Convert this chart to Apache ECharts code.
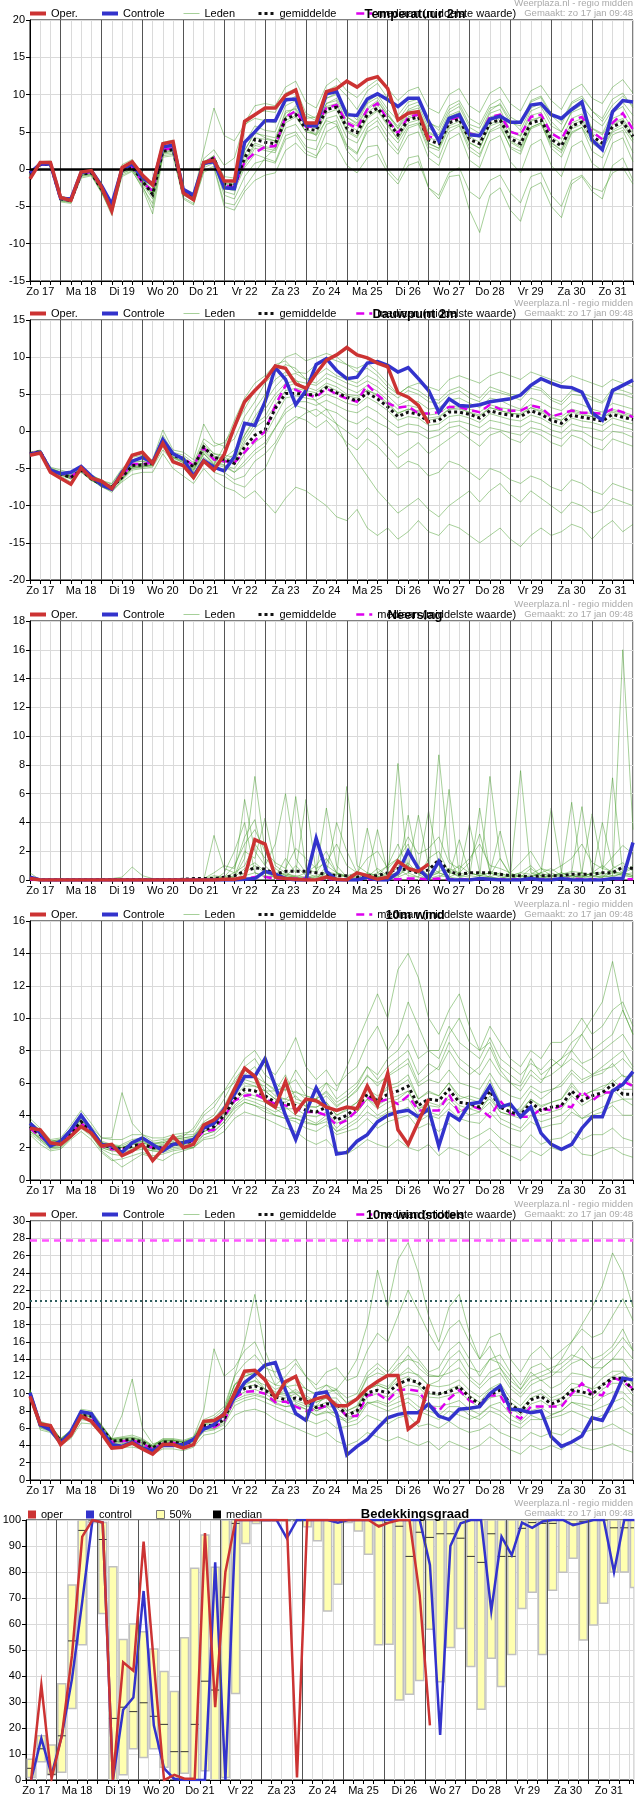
<!DOCTYPE html>
<html>
<head>
<meta charset="utf-8">
<script src="https://cdn.jsdelivr.net/npm/echarts@6.0.0/dist/echarts.min.js"></script>
<style>
html,body{margin:0;padding:0;background:#fff;}
#box{width:635px;height:1800px;}
</style>
</head>
<body>
<div id="box"></div>
<script>
// tijdas: uren na zo 17 jan 00:00, stap 6 uur
var hours = [6,12,18,24, 30,36,42,48, 54,60,66,72, 78,84,90,96, 102,108,114,120,
  126,132,138,144, 150,156,162,168, 174,180,186,192, 198,204,210,216, 222,228,234,240,
  246,252,258,264, 270,276,282,288, 294,300,306,312, 318,324,330,336, 342,348,354,360];
var dayLines = [24,48,72,96,120,144,168,192,216,240,264,288,312,336];
var dayNames = ['Zo 17','Ma 18','Di 19','Wo 20','Do 21','Vr 22','Za 23','Zo 24','Ma 25','Di 26','Wo 27','Do 28','Vr 29','Za 30','Zo 31'];

// ---- Temperatuur 2m ----
var tempOper = [-1.3,0.9,0.9,-3.8, -4.2,-0.4,-0.2,-2.4, -5.6,0.2,1.0,-0.8, -2.1,3.4,3.7,-3.2, -4.1,0.9,1.2,-1.6,
  -1.6,6.4,7.3,8.2, 8.2,9.9,10.6,6.2, 6.2,10.4,10.8,11.8, 11.0,12.0,12.4,10.8, 6.6,7.5,7.7,3.9];
var tempCtrl = [-0.5,0.7,0.7,-3.9, -4.0,-0.5,-0.2,-2.2, -4.7,0.0,0.7,-1.2, -2.0,3.0,3.2,-2.7, -3.5,0.8,1.0,-2.5,
  -2.6,3.6,5.0,6.5, 6.5,9.3,9.4,5.9, 5.8,10.1,10.4,7.3, 7.2,9.4,10.1,9.3, 8.4,9.5,9.5,6.4,
  3.8,6.8,7.3,4.6, 4.5,6.7,7.1,6.3, 6.3,8.6,8.8,7.3, 6.8,8.0,9.0,3.9, 2.6,7.7,9.2,9.0];
var tempMean = [-0.6,0.6,0.7,-4.0, -4.2,-0.7,-0.5,-2.7, -5.0,-0.2,0.3,-1.6, -3.4,2.4,2.6,-3.2, -3.7,0.7,1.5,-2.0,
  -2.2,1.5,4.0,3.6, 3.4,6.7,7.3,5.4, 5.2,8.0,8.3,5.5, 4.9,7.3,8.2,6.4, 4.6,6.6,7.0,3.9,
  3.4,6.2,6.7,4.0, 3.4,6.2,6.6,4.1, 3.4,6.2,6.6,4.0, 3.1,5.8,6.3,4.4, 3.5,5.7,6.3,4.4];
var tempMedian = [-0.6,0.6,0.7,-4.0, -4.2,-0.6,-0.4,-2.5, -4.9,-0.1,0.4,-1.8, -2.9,2.6,2.8,-3.1, -3.6,0.8,1.5,-2.2,
  -2.4,1.0,2.2,3.0, 3.1,7.0,7.8,5.7, 5.7,8.2,8.6,6.2, 5.5,8.0,8.8,6.6, 4.8,7.0,7.3,4.4,
  4.0,6.6,7.0,4.8, 4.4,7.0,7.3,5.0, 4.6,7.0,7.3,4.8, 4.0,6.6,7.0,5.0, 4.0,6.2,7.5,5.3];
var tempMembers = [
  [-0.8,0.9,1.0,-3.6, -4.0,-0.3,-0.1,-2.2, -4.8,0.3,1.0,-1.0, -2.5,3.4,3.6,-2.8, -3.5,1.0,1.6,-1.0, -1.2,5.8,7.5,7.8, 7.6,10.2,10.8,7.5, 6.8,10.5,11.2,9.8, 8.0,10.5,11.5,9.5, 7.2,9.0,9.4,6.5, 5.2,8.0,8.8,6.0, 5.5,8.2,8.6,6.2, 5.8,9.0,9.6,7.2, 6.0,8.8,9.5,7.8, 6.4,8.6,9.8,8.5],
  [-0.5,0.5,0.6,-4.2, -4.5,-1.0,-0.8,-3.0, -5.4,-0.6,0.0,-2.0, -4.0,2.0,2.2,-3.5, -4.2,0.2,0.8,-3.5, -4.0,-1.0,0.8,1.2, 0.8,4.0,4.6,2.5, 1.8,3.5,3.0,0.5, -0.5,1.5,2.0,-0.5, -2.0,0.5,1.0,-2.5, -3.5,-0.5,0.2,-3.0, -4.0,-1.5,-0.8,-3.2, -4.5,-1.0,-0.5,-3.5, -5.0,-1.5,-0.8,-2.5, -3.0,-0.5,0.2,-2.0],
  [-0.6,0.7,0.8,-3.9, -4.1,-0.6,-0.4,-2.6, -5.2,-0.3,0.2,-1.8, -3.6,2.6,2.8,-3.0, -3.6,0.8,1.8,-2.2, -2.5,0.8,3.2,2.8, 2.5,6.5,7.2,5.0, 4.8,8.2,8.6,5.2, 4.4,7.0,8.0,6.0, 4.0,6.8,7.2,3.5, 2.8,6.4,7.0,3.6, 2.8,6.0,6.8,3.8, 3.0,6.4,7.0,3.6, 2.6,5.8,6.6,4.0, 3.2,6.0,6.6,4.0],
  [-0.4,0.8,0.9,-4.4, -4.6,-1.2,-0.9,-3.2, -5.8,-1.0,-0.3,-2.4, -4.6,1.8,2.0,-3.8, -4.6,-0.2,0.4,-4.5, -4.8,-2.5,-0.5,1.5, 2.8,7.0,8.5,6.8, 7.0,9.5,10.2,7.0, 6.2,8.8,9.6,7.5, 5.5,7.8,8.2,5.0, 4.2,7.2,7.8,5.0, 4.5,7.5,8.0,5.2, 4.5,7.8,8.4,5.8, 5.0,7.6,8.2,5.5, 4.8,7.6,8.4,6.0],
  [-0.7,1.0,1.1,-3.7, -3.9,-0.2,0.1,-2.0, -4.6,0.6,1.3,-0.8, -2.2,3.6,3.9,-2.6, -3.2,1.4,2.6,0.5, 1.5,6.2,8.5,8.8, 8.5,11.0,11.8,9.0, 8.2,11.2,12.2,10.5, 9.6,11.0,12.0,10.8, 9.2,10.5,11.0,8.2, 7.5,10.0,10.8,8.5, 7.6,10.2,11.0,8.8, 7.8,10.5,11.2,9.2, 8.0,10.6,11.4,9.5, 8.8,11.0,12.0,10.2],
  [-0.5,0.5,0.5,-4.1, -4.3,-0.8,-0.6,-2.9, -5.6,-0.5,0.0,-2.2, -5.2,2.1,2.4,-3.4, -4.0,0.4,1.2,-2.6, -2.9,0.2,2.0,1.5, 1.0,4.5,5.0,3.0, 2.6,6.0,6.5,3.2, 2.2,5.0,5.8,3.5, 2.0,4.5,5.0,1.5, 0.5,4.0,4.8,1.2, 0.2,3.8,4.5,1.0, -0.5,3.2,4.0,0.5, -1.0,3.0,3.8,0.8, -0.2,3.5,4.2,1.0],
  [-0.6,0.6,0.8,-4.0, -4.3,-0.5,-0.3,-2.5, -4.9,0.0,0.6,-1.4, -3.0,2.9,3.2,-3.1, -3.8,0.6,1.0,-3.0, -3.4,2.5,5.0,4.2, 3.8,7.8,8.0,5.5, 4.5,6.5,6.0,2.5, 1.0,3.0,3.2,0.0, -1.5,1.5,1.8,-2.5, -4.0,-1.0,-0.8,-5.5, -8.5,-3.5,-2.5,-5.5, -7.0,-2.5,-1.8,-5.0, -6.5,-2.0,-1.0,-3.0, -4.0,0.5,1.5,-1.5],
  [-0.7,0.7,0.9,-3.8, -4.0,-0.4,-0.2,-2.4, -5.0,0.2,0.8,-1.2, -2.8,3.0,3.4,-2.9, -3.4,2.5,8.2,4.5, 3.8,6.0,6.8,6.5, 6.2,9.0,9.8,6.5, 5.5,8.8,9.5,7.0, 6.0,8.2,9.2,7.2, 5.8,8.0,8.6,5.5, 4.6,7.6,8.4,5.6, 4.8,7.8,8.8,6.6, 5.2,8.2,8.8,6.4, 5.0,7.8,8.6,6.8, 5.8,8.0,9.0,7.2],
  [-0.5,0.6,0.7,-4.3, -4.4,-0.9,-0.7,-3.1, -6.2,-0.8,-0.2,-2.6, -6.0,1.6,1.8,-4.0, -4.8,-0.4,0.2,-5.0, -5.5,-3.0,-1.5,-0.8, -0.5,2.5,3.5,2.0, 1.5,5.0,5.8,3.0, 2.0,5.5,6.5,4.2, 2.5,5.5,6.0,2.5, 1.5,5.0,5.8,2.5, 1.6,5.2,6.0,2.8, 2.0,5.6,6.2,2.8, 1.6,4.8,5.6,2.4, 1.5,4.6,5.2,2.2],
  [-0.6,0.8,0.9,-3.9, -4.1,-0.6,-0.4,-2.7, -5.1,-0.1,0.4,-1.6, -3.3,2.5,2.7,-3.3, -3.7,0.9,1.6,-1.8, -2.0,3.5,5.8,5.2, 5.0,8.5,9.2,7.2, 6.5,9.5,10.0,7.8, 6.6,9.0,10.0,8.0, 6.5,8.5,9.0,6.2, 5.6,8.5,9.2,6.8, 6.0,8.6,9.4,7.0, 6.2,9.2,9.8,7.5, 6.4,9.0,9.8,7.8, 6.8,9.4,10.2,8.2],
  [-0.6,0.5,0.6,-4.1, -4.3,-0.8,-0.6,-2.8, -5.1,-0.3,0.2,-1.7, -3.5,2.2,2.5,-3.3, -3.8,0.5,1.3,-2.3, -2.5,1.0,3.5,3.0, 2.8,6.2,7.0,5.0, 4.6,7.5,8.0,5.0, 4.2,6.8,7.8,5.8, 4.0,6.2,6.6,3.4, 2.8,5.8,6.4,3.5, 2.8,5.8,6.3,3.6, 2.8,5.6,6.2,3.5, 2.5,5.4,6.0,3.8, 3.0,5.2,6.0,4.0],
  [-0.7,0.8,0.8,-3.8, -4.0,-0.5,-0.3,-2.5, -4.8,0.0,0.5,-1.4, -3.0,2.8,3.0,-3.0, -3.5,1.0,1.8,-1.5, -1.8,2.5,4.8,4.5, 4.2,7.5,8.2,6.0, 5.8,8.8,9.2,6.5, 5.8,8.0,9.0,7.2, 5.4,7.4,7.8,4.8, 4.2,7.0,7.6,4.8, 4.2,7.0,7.4,5.0, 4.4,7.2,7.6,5.0, 4.0,6.8,7.4,5.4, 4.6,6.8,7.4,5.4],
  [-0.5,0.6,0.7,-4.0, -4.2,-0.7,-0.5,-2.6, -5.0,-0.2,0.3,-1.6, -3.4,2.3,2.6,-3.2, -3.7,0.7,1.4,-2.0, -2.3,0.5,2.8,2.5, 2.2,5.5,6.0,4.0, 3.8,6.8,7.2,4.2, 3.5,6.0,7.0,5.0, 3.5,5.8,6.2,3.0, 2.5,5.5,6.0,3.0, 2.0,5.0,5.6,3.0, 2.4,5.4,6.0,3.2, 2.2,5.0,5.6,3.4, 2.6,5.0,5.6,3.6],
  [-0.6,0.7,0.8,-3.9, -4.1,-0.6,-0.4,-2.6, -4.9,-0.1,0.4,-1.5, -3.2,2.6,2.8,-3.1, -3.6,0.9,1.7,-1.9, -2.1,2.0,4.2,4.0, 3.8,7.0,7.6,5.8, 5.5,8.4,8.8,6.0, 5.2,7.6,8.6,6.8, 5.0,7.0,7.5,4.2, 3.8,6.6,7.2,4.4, 3.6,6.5,7.0,4.5, 3.8,6.6,7.0,4.4, 3.4,6.2,6.8,4.8, 4.0,6.2,6.8,4.8]
];

// ---- Dauwpunt 2m ----
var dewOper = [-3.2,-2.9,-5.5,-6.3, -7.1,-4.9,-6.3,-6.7, -7.7,-5.7,-3.2,-2.8, -4.3,-1.6,-4.1,-4.6, -6.2,-4.0,-5.2,-3.1,
  0.6,4.0,5.5,6.9, 8.8,8.5,6.4,5.8, 7.8,9.6,10.3,11.3, 10.3,9.9,9.2,8.7, 5.2,4.6,3.5,1.1];
var dewCtrl = [-3.1,-2.8,-5.2,-5.7, -5.5,-4.7,-6.0,-7.2, -7.8,-5.5,-4.0,-3.5, -4.2,-1.1,-3.0,-3.7, -6.0,-3.9,-4.8,-5.3,
  -3.4,1.1,0.8,4.0, 8.6,7.0,3.6,5.5, 9.0,9.8,8.2,7.1, 7.3,9.2,9.4,8.9, 8.0,8.6,7.1,5.5,
  2.6,4.4,3.5,3.4, 3.6,4.0,4.2,4.4, 4.9,6.2,7.1,6.5, 6.0,5.9,5.3,2.5, 1.5,5.5,6.2,6.9];
var dewMean = [-3.0,-2.7,-5.3,-5.7, -6.2,-5.2,-6.4,-7.1, -7.5,-6.2,-4.6,-4.5, -4.3,-1.2,-3.2,-3.7, -4.8,-2.1,-3.5,-3.8,
  -4.3,-2.1,-0.5,0.2, 3.1,5.1,5.1,5.0, 4.9,5.9,5.2,4.6, 4.1,5.2,4.4,3.3, 2.0,2.6,2.3,1.3,
  1.5,2.6,2.6,2.3, 1.8,2.8,2.4,2.2, 2.0,2.8,2.3,1.5, 1.1,2.2,1.9,1.7, 1.4,2.3,1.9,1.6];
var dewMedian = [-3.0,-2.7,-5.2,-5.6, -6.1,-5.1,-6.3,-7.0, -7.4,-6.0,-4.4,-4.4, -4.2,-1.3,-3.1,-3.6, -4.6,-2.2,-3.8,-4.0,
  -4.2,-2.8,-1.2,0.0, 3.5,6.2,5.6,5.0, 4.6,5.8,5.0,4.4, 4.0,6.3,4.9,3.8, 3.2,3.4,2.4,2.4,
  2.6,3.3,3.3,2.9, 2.6,3.6,3.0,2.8, 2.8,3.5,3.2,2.0, 2.4,2.8,2.5,2.5, 2.4,3.0,2.6,1.9];
var dewMembers = [
  [-3.2,-2.9,-5.3,-6.0, -6.8,-4.9,-6.0,-6.5, -7.5,-5.5,-3.5,-3.2, -4.0,-0.8,-3.5,-4.2, -5.8,-3.5,-4.5,-2.0, 1.5,4.5,6.5,7.5, 9.0,9.5,8.0,7.8, 9.0,10.0,9.5,9.0, 8.5,9.2,8.0,6.5, 5.0,6.0,5.5,4.5, 4.2,5.5,6.0,5.2, 4.5,6.0,5.5,5.0, 4.8,6.2,5.8,4.5, 4.0,5.5,5.2,4.6, 4.0,5.8,5.5,5.0],
  [-2.9,-2.6,-5.0,-5.4, -5.8,-5.2,-6.5,-7.5, -8.0,-6.8,-5.8,-5.5, -5.5,-3.0,-5.0,-6.0, -7.0,-5.0,-6.5,-7.5, -8.0,-9.0,-8.0,-9.5, -11.0,-9.0,-7.5,-8.0, -9.0,-10.0,-11.5,-12.0, -10.5,-13.0,-14.0,-13.0, -14.5,-13.5,-12.0,-13.5, -14.0,-12.5,-13.0,-14.0, -15.0,-14.0,-13.0,-14.5, -15.5,-14.0,-13.0,-14.0, -13.5,-12.5,-13.0,-14.5, -13.0,-12.0,-13.5,-12.5],
  [-3.0,-2.7,-5.2,-5.6, -6.1,-5.1,-6.3,-7.0, -7.4,-6.0,-4.4,-4.3, -4.2,-1.0,-3.0,-3.5, -4.6,-1.8,-3.0,-3.5, -4.0,-1.0,1.0,2.0, 4.5,6.0,6.5,6.0, 5.5,6.5,6.0,5.0, 4.8,5.5,5.0,3.8, 2.5,3.0,2.8,1.5, 1.8,3.0,3.2,2.5, 2.0,3.2,2.8,2.5, 2.2,3.2,2.8,2.0, 1.5,2.8,2.4,2.0, 1.8,2.8,2.4,2.0],
  [-3.1,-2.8,-5.4,-5.8, -6.4,-5.5,-6.6,-7.3, -7.8,-6.5,-5.0,-4.8, -4.6,-2.0,-3.8,-4.5, -6.0,-3.0,-4.5,-5.5, -6.5,-6.0,-4.0,-3.0, -1.5,1.0,2.0,1.5, 0.5,1.5,0.0,-1.5, -2.5,-1.0,-2.0,-3.5, -5.0,-4.0,-4.5,-6.0, -5.5,-4.0,-4.5,-5.5, -6.5,-5.0,-5.5,-6.5, -7.0,-6.0,-6.5,-7.5, -8.0,-6.5,-7.0,-8.0, -8.5,-7.0,-7.5,-8.0],
  [-2.8,-2.5,-4.8,-5.2, -5.6,-4.6,-5.8,-6.6, -7.0,-5.0,-3.8,-3.6, -3.8,0.2,-2.5,-2.8, -3.8,1.0,-1.5,-2.0, -1.0,2.0,4.0,6.5, 8.0,9.0,8.5,7.0, 7.5,8.5,7.5,7.0, 6.5,7.5,6.8,5.5, 4.5,5.5,5.0,4.0, 3.8,5.0,5.5,4.5, 4.0,5.5,5.2,4.8, 4.2,5.8,5.5,4.2, 3.6,5.0,4.8,4.2, 3.8,5.2,5.0,4.5],
  [-3.0,-2.6,-5.1,-5.5, -6.0,-5.3,-6.2,-7.2, -7.6,-6.4,-4.8,-4.6, -4.5,-1.8,-3.4,-4.0, -5.2,-2.6,-4.0,-4.5, -5.5,-4.0,-2.5,-1.5, 0.5,2.5,3.5,3.0, 2.0,3.0,2.5,1.5, 1.0,2.0,1.2,0.5, -0.5,0.0,-0.2,-1.0, -0.5,0.5,0.8,0.0, -0.5,0.5,0.2,-0.2, -0.5,0.5,0.2,-0.5, -1.0,0.2,0.0,-0.8, -1.2,0.0,-0.2,-0.8],
  [-3.1,-2.8,-5.0,-5.6, -6.2,-5.0,-6.1,-6.9, -7.3,-5.8,-4.2,-4.0, -4.4,-1.5,-3.2,-3.8, -5.0,-2.4,-3.8,-4.2, -3.0,0.5,3.0,5.0, 7.0,8.0,7.0,5.5, 4.0,3.0,1.0,-2.0, -4.0,-6.0,-8.0,-9.5, -11.0,-10.0,-9.0,-10.5, -11.5,-10.0,-9.0,-8.0, -9.5,-8.0,-7.0,-8.5, -9.5,-8.0,-9.0,-10.0, -11.0,-9.5,-10.0,-11.0, -10.5,-9.0,-9.5,-10.0],
  [-2.9,-2.7,-4.9,-5.5, -5.9,-4.8,-5.9,-6.7, -7.1,-5.2,-4.0,-4.0, -4.0,-0.5,-2.8,-3.2, -4.2,-1.0,-2.0,-1.5, 0.5,3.0,5.5,7.0, 8.5,10.0,10.5,9.5, 10.0,10.5,10.0,9.0, 8.0,8.5,7.5,6.0, 5.0,6.0,6.5,6.0, 5.5,7.0,7.5,7.0, 6.5,7.5,8.0,7.5, 7.0,8.0,7.5,7.0, 6.5,7.5,7.0,6.5, 6.0,7.0,6.5,6.0],
  [-3.0,-2.8,-5.3,-5.8, -6.3,-5.4,-6.5,-7.4, -8.2,-6.6,-5.2,-5.0, -4.8,-2.5,-4.0,-4.8, -6.5,-4.0,-5.5,-6.0, -7.0,-7.5,-6.0,-5.0, -2.0,0.5,1.5,2.5, 3.0,2.0,1.0,0.0, -1.0,0.5,-0.5,-2.0, -3.5,-2.5,-1.5,-3.0, -2.0,-1.0,0.0,-1.0, -2.0,-0.5,0.0,-1.0, -1.5,0.0,-0.5,-1.5, -2.0,-0.5,-1.0,-2.0, -2.5,-1.0,-1.5,-2.0],
  [-2.9,-2.6,-5.1,-5.5, -6.0,-5.0,-6.2,-6.9, -7.3,-5.6,-4.6,-4.4, -4.3,-1.2,-3.0,-3.6, -4.8,-2.0,-3.4,-3.6, -2.5,-0.5,2.0,4.0, 6.0,7.5,7.8,7.0, 6.5,7.8,7.2,6.5, 6.0,6.8,6.0,4.8, 3.5,4.2,4.0,3.0, 3.2,4.2,4.5,3.8, 3.2,4.5,4.2,3.5, 3.0,4.5,4.0,3.2, 2.8,4.0,3.6,3.0, 2.6,3.8,3.4,3.0],
  [-3.0,-2.7,-5.2,-5.7, -6.2,-5.2,-6.4,-7.1, -7.5,-6.2,-4.6,-4.5, -4.3,-1.2,-3.2,-3.7, -4.8,-2.1,-3.5,-3.8, -4.0,-1.5,0.5,1.5, 3.5,5.5,5.8,5.5, 5.2,6.2,5.5,4.8, 4.5,5.6,4.8,3.6, 2.4,3.0,2.6,1.8, 2.0,3.0,3.0,2.6, 2.2,3.2,2.8,2.4, 2.4,3.2,2.6,1.8, 1.5,2.6,2.2,2.0, 1.8,2.6,2.2,1.8],
  [-3.1,-2.8,-5.3,-5.8, -6.3,-5.3,-6.5,-7.2, -7.6,-6.3,-4.8,-4.7, -4.5,-1.6,-3.5,-4.0, -5.2,-2.8,-4.2,-4.6, -5.0,-3.0,-1.5,-0.5, 2.0,4.5,4.8,4.5, 4.2,5.0,4.5,3.8, 3.5,4.6,3.8,2.8, 1.5,2.0,1.8,0.8, 1.0,2.0,2.2,1.8, 1.2,2.4,2.0,1.6, 1.4,2.2,1.8,1.0, 0.6,1.8,1.4,1.2, 0.8,1.8,1.4,1.0],
  [-2.9,-2.6,-5.2,-5.6, -6.1,-5.0,-6.3,-7.0, -7.4,-6.0,-4.5,-4.3, -4.2,-1.0,-3.0,-3.5, -4.5,-1.5,-3.0,-3.2, -3.5,-0.5,1.5,3.0, 5.0,6.5,6.8,6.5, 6.2,7.2,6.5,5.8, 5.2,6.2,5.4,4.2, 3.0,3.5,3.2,2.2, 2.4,3.4,3.4,3.0, 2.6,3.6,3.2,3.0, 2.8,3.6,3.0,2.2, 2.0,3.0,2.6,2.4, 2.2,3.0,2.6,2.2],
  [-3.0,-2.8,-5.4,-5.9, -6.4,-5.4,-6.6,-7.3, -7.8,-6.4,-4.9,-4.8, -4.6,-1.8,-3.6,-4.2, -5.4,-3.0,-4.4,-4.8, -5.5,-4.5,-3.0,-2.0, 0.5,3.0,4.0,4.0, 3.5,4.2,3.5,2.8, 2.5,3.4,2.6,1.5, 0.5,1.0,0.8,0.0, 0.2,1.2,1.4,1.0, 0.5,1.5,1.2,0.8, 0.6,1.4,1.0,0.2, -0.2,1.0,0.6,0.4, 0.0,1.0,0.6,0.2]
];

// ---- Neerslag ----
var rainOper = [0.1,0,0,0, 0,0,0,0, 0,0,0,0, 0,0,0,0, 0,0,0,0.05,
  0.05,0.2,2.8,2.5, 0.2,0.1,0.05,0, 0,0.2,0.05,0, 0.5,0.3,0.05,0.2, 1.3,0.8,0.6,1.1];
var rainCtrl = [0.2,0,0,0, 0,0,0,0, 0,0,0,0, 0,0,0,0, 0,0,0,0,
  0,0.05,0.1,0.6, 0.4,0.1,0,0, 2.9,0.6,0,0, 0,0.2,0,0, 0.5,2.0,0.8,0.1,
  1.3,0,0,0, 0.1,0.05,0,0, 0,0.1,0,0, 0.1,0,0,0, 0,0.1,0.1,2.6];
var rainMean = [0.1,0.02,0.02,0.02, 0.02,0.02,0.02,0.03, 0.03,0.03,0.03,0.03, 0.03,0.03,0.03,0.05, 0.1,0.1,0.1,0.2,
  0.3,0.6,0.85,0.75, 0.4,0.6,0.6,0.6, 0.5,0.4,0.3,0.3, 0.2,0.3,0.3,0.5, 0.8,0.7,0.5,0.7,
  1.4,0.6,0.4,0.5, 0.5,0.5,0.4,0.3, 0.3,0.2,0.3,0.3, 0.3,0.4,0.4,0.4, 0.5,0.5,0.9,0.8];
var rainMedian = [0,0,0,0, 0,0,0,0, 0,0,0,0, 0,0,0,0, 0,0,0,0,
  0,0.1,0.2,0.2, 0.1,0.1,0.1,0.1, 0.05,0.05,0.05,0.05, 0.05,0.05,0.05,0.05, 0.05,0.1,0.1,0.05,
  0.1,0.05,0.05,0.05, 0.05,0.05,0.05,0.05, 0.05,0.05,0.05,0.05, 0.05,0.1,0.05,0.05, 0.05,0.05,0.05,0.05];
var rainMembers = [
  [0,0,0,0, 0,0,0,0, 0,0,0,0, 0,0,0,0, 0,0,3.1,0.8, 0.5,5.6,2.0,1.0, 0.3,0.5,0.2,0, 0,1.0,0.5,0.2, 0,0.2,0.8,0.3, 0.5,1.2,0.4,0, 0.2,0.6,0.2,0, 0,0.3,1.5,0.4, 0.2,0.8,0.3,0, 0,0.3,0.2,0.5, 1.0,0.5,0.3,0.2],
  [0.5,0,0,0, 0,0,0,0, 0,0,0,0, 0,0,0,0, 0,0,0,0.2, 0.2,1.5,7.2,2.0, 0.5,0.2,1.0,0.3, 0,0.5,4.0,2.0, 0.5,0.3,0.2,0.1, 0.3,0.8,4.5,1.0, 0.5,0.2,0.5,0.3, 0.2,7.2,1.5,0.3, 0,0.2,0.5,0.8, 0.3,0.1,0.5,0.3, 0.2,0.8,1.2,0.6],
  [0,0,0,0, 0,0,0,0, 0.1,0.2,0.9,0.3, 0.1,0.1,0,0, 0,0.1,0.5,1.0, 0.8,3.0,4.2,1.0, 2.5,6.0,1.5,0.5, 0.2,0.5,0.3,6.5, 1.0,0.5,0.3,1.0, 2.5,0.8,0.5,0.3, 8.7,1.5,0.2,0.5, 0.3,0.5,0.2,0.1, 0.3,0.2,0.5,5.0, 0.5,0.3,0.2,0.5, 0.5,0.3,16.0,3.5],
  [0,0,0,0, 0,0,0,0, 0,0,0,0, 0,0,0,0, 0,0,0.2,0.1, 0.3,2.0,1.5,4.3, 1.0,0.5,5.8,0.8, 0.5,1.5,0.5,0.3, 0.2,3.6,0.5,0.2, 8.1,0.5,1.0,0.3, 0.5,6.3,0.3,3.9, 0.5,0.2,0.5,0.2, 7.6,0.5,0.3,0.2, 0.5,5.4,0.3,0.2, 0.5,7.1,0.5,0.3],
  [0,0,0,0, 0,0,0,0, 0,0,0,0, 0,0,0,0, 0,0,0,0, 0,0.5,1.0,0.5, 0.2,1.5,0.5,5.6, 0.5,5.0,1.0,0.2, 0.1,0.5,0.2,0.3, 0.5,4.5,0.8,4.8, 1.0,0.5,0.3,0.2, 5.0,0.5,3.4,0.5, 0.2,0.3,0.5,0.2, 0.3,0.5,5.1,0.5, 0.3,0.2,0.5,1.0],
  [0,0,0,0, 0,0,0,0, 0,0,0,0, 0,0,0,0, 0,0,0.1,0.2, 0.5,1.0,2.5,1.5, 0.8,0.3,0.2,0.5, 1.0,2.0,0.5,0.2, 0.1,0.2,0.5,1.0, 1.5,2.5,0.5,0.2, 0.5,0.3,2.8,0.5, 0.3,0.2,0.1,0.3, 0.5,1.0,0.3,0.5, 0.2,0.3,0.5,0.3, 0.2,0.5,0.5,0.8],
  [0,0,0,0, 0,0,0,0, 0,0,0,0, 0,0,0,0, 0,0,0,0.5, 2.0,4.0,0.5,0.3, 0.2,0.3,0.2,0.1, 0.2,0.3,0.2,0.3, 0.5,0.3,0.2,0.5, 0.8,0.3,0.2,1.5, 2.0,0.5,1.0,0.5, 0.3,0.5,0.3,0.2, 0.3,0.2,0.2,0.3, 0.5,0.2,0.3,0.2, 4.0,1.0,0.5,0.3],
  [0,0,0,0, 0,0,0,0, 0,0,0,0, 0,0,0,0, 0,0,0,0, 0,0.3,0.5,0.2, 0.3,0.2,0.1,0.2, 0.1,0.2,0.1,0.1, 0,0.1,0.2,0.1, 0.2,0.5,0.2,0.1, 0.3,0.2,0.1,0.1, 0.1,0.2,0.1,0, 0.1,0.1,0.2,0.1, 0.1,0.1,0.2,0.1, 0.2,0.3,0.4,0.2],
  [0,0,0,0, 0,0,0,0, 0,0,0,0, 0,0,0,0, 0,0.1,0.3,0.2, 1.0,2.5,3.5,2.0, 1.2,0.8,2.2,1.5, 0.8,1.2,2.5,1.0, 0.5,1.5,2.0,0.8, 1.5,3.0,1.8,2.2, 3.0,1.2,0.8,1.5, 2.5,1.0,0.8,0.5, 1.2,2.0,0.8,0.6, 1.0,1.5,2.5,1.2, 0.8,1.6,2.4,1.8],
  [0,0,0,0, 0,0,0,0, 0,0,0,0, 0,0,0,0, 0,0,0,0, 0.2,0.8,1.2,0.6, 0.3,0.4,0.3,0.2, 0.3,0.6,0.4,0.2, 0.2,0.4,3.5,0.5, 0.3,1.0,0.5,0.4, 0.6,0.8,0.5,1.2, 3.2,0.6,0.4,0.3, 0.5,0.4,0.8,0.3, 0.4,0.6,0.5,4.6, 0.8,0.6,0.4,0.5]
];

// ---- 10m wind ----
var windOper = [3.2,3.1,2.3,2.2, 2.7,3.3,2.9,2.1, 2.2,1.5,1.8,2.2, 1.2,1.9,2.7,2.0, 2.2,3.4,3.7,4.3,
  5.6,6.9,6.4,4.9, 4.5,6.1,4.2,5.0, 4.9,4.5,4.3,4.5, 4.4,5.8,4.6,6.6, 3.1,2.2,3.6,5.0];
var windCtrl = [3.5,2.9,2.1,2.4, 3.1,4.0,3.1,2.2, 2.1,1.7,2.3,2.6, 2.2,1.8,2.2,2.3, 2.5,3.2,3.5,4.4,
  5.3,6.4,6.4,7.5, 5.8,4.0,2.5,4.2, 5.7,4.5,1.6,1.7, 2.4,2.8,3.6,4.0, 4.2,4.3,3.9,4.4,
  2.1,4.1,3.7,4.7, 4.8,5.8,4.5,4.7, 3.9,4.5,2.9,2.2, 1.9,2.2,3.2,3.9, 3.9,5.5,5.9,6.7];
var windMean = [3.3,2.8,2.2,2.3, 2.9,3.6,3.0,2.2, 2.0,1.9,2.1,2.2, 2.0,2.0,2.2,2.3, 2.4,3.1,3.3,4.0,
  5.0,5.6,5.5,5.2, 4.8,4.7,4.6,4.3, 4.2,4.5,3.7,4.0, 4.5,5.3,4.9,5.3, 5.5,5.8,4.6,5.0,
  4.9,5.6,4.8,4.7, 4.5,5.5,4.5,4.2, 4.0,4.8,4.3,4.5, 4.6,5.5,4.9,5.2, 5.4,5.9,5.3,5.3];
var windMedian = [3.2,2.7,2.2,2.3, 2.9,3.5,3.0,2.1, 1.9,1.9,2.1,2.2, 2.0,2.0,2.2,2.3, 2.4,3.0,3.1,3.9,
  4.9,5.2,5.3,5.0, 4.7,4.6,4.4,4.2, 4.2,4.0,3.4,3.7, 4.3,5.1,4.8,5.0, 4.7,5.2,4.3,4.3,
  4.3,5.3,4.1,4.6, 4.4,3.9,4.9,4.1, 3.9,3.9,4.4,4.3, 4.6,4.5,5.5,4.9, 5.4,5.4,6.1,5.8];
var windMembers = [
  [3.8,3.2,2.5,2.6, 3.4,4.3,3.5,2.6, 2.5,2.5,2.8,2.8, 2.6,2.6,2.8,2.9, 3.0,4.0,4.5,5.5, 6.5,7.5,8.0,7.0, 6.5,7.5,8.8,7.0, 6.2,6.8,5.8,6.5, 7.0,8.5,9.5,8.0, 9.0,11.0,9.5,8.0, 7.5,9.0,10.0,8.5, 8.0,9.5,8.5,7.5, 7.0,8.0,7.5,8.5, 8.5,9.0,10.0,9.0, 9.5,10.5,11.0,9.5],
  [2.8,2.2,1.8,1.9, 2.5,3.0,2.5,1.7, 1.2,1.3,1.5,1.7, 1.5,1.6,1.8,1.9, 2.0,2.5,2.6,3.0, 3.8,4.2,4.0,3.8, 3.5,3.2,3.0,2.5, 2.2,2.5,1.8,1.6, 2.0,2.5,2.2,2.0, 2.5,2.0,1.8,2.2, 1.5,2.0,1.8,1.5, 2.0,2.5,1.8,1.5, 1.2,1.8,1.5,2.0, 1.8,2.2,1.6,1.5, 1.8,2.0,1.6,1.4],
  [3.4,2.9,2.3,2.4, 3.0,3.8,3.2,2.3, 2.1,2.0,2.2,2.4, 2.1,2.2,2.4,2.5, 2.6,3.4,3.6,4.4, 5.4,6.0,5.8,5.5, 5.0,4.8,5.2,4.5, 4.5,4.8,4.0,4.4, 4.8,5.6,5.0,5.8, 6.0,6.5,5.0,5.5, 5.2,6.0,5.0,5.2, 5.0,6.2,4.8,4.5, 4.2,5.0,4.5,4.8, 5.0,6.0,5.2,5.5, 5.8,6.0,6.5,5.8],
  [3.0,2.6,2.0,2.2, 2.8,3.4,2.8,2.0, 1.8,2.2,2.5,2.6, 2.2,2.4,2.6,2.7, 3.2,4.2,4.8,5.5, 6.0,7.0,6.5,5.5, 5.5,6.5,5.0,4.8, 5.0,6.0,5.5,7.0, 8.5,10.0,11.5,10.0, 13.0,14.0,12.5,10.0, 9.0,10.5,11.5,9.5, 8.0,8.5,7.0,6.5, 6.0,7.5,6.5,7.0, 7.5,8.0,9.0,8.0, 8.5,9.0,10.5,9.0],
  [3.2,2.5,2.0,2.0, 2.6,3.2,2.7,1.9, 1.6,1.5,1.8,1.9, 1.8,1.7,1.9,2.0, 2.0,2.6,2.8,3.4, 4.2,4.8,4.6,4.2, 4.0,3.8,3.6,3.2, 3.0,3.4,2.8,3.0, 3.2,3.8,3.2,3.6, 3.8,4.0,3.2,3.5, 3.0,3.5,2.8,2.5, 2.8,3.2,2.6,2.2, 2.0,2.8,2.2,2.5, 2.6,3.0,2.5,2.8, 2.8,3.2,2.6,2.4],
  [3.6,3.0,2.4,2.5, 3.2,3.9,3.3,2.6, 2.6,5.4,3.5,2.8, 2.4,2.5,2.6,2.8, 2.8,3.6,4.0,5.0, 6.2,7.0,7.5,6.5, 6.0,5.5,6.8,5.8, 5.5,6.0,5.0,5.5, 6.0,7.0,6.2,7.0, 7.5,8.0,6.5,7.2, 6.8,8.0,7.0,6.5, 7.0,8.2,6.8,6.0, 5.8,6.8,6.2,6.5, 7.0,8.0,7.2,7.5, 8.0,8.5,9.0,8.0],
  [3.1,2.6,2.1,2.2, 2.8,3.5,2.9,2.1, 1.9,1.8,2.0,2.1, 1.9,1.9,2.1,2.2, 2.3,3.0,3.2,3.8, 4.6,5.2,5.0,4.8, 4.4,4.0,3.8,3.6, 3.4,3.8,3.0,3.4, 3.8,4.6,4.0,4.4, 4.8,5.0,4.0,4.2, 4.0,4.8,4.2,4.4, 4.6,5.0,4.2,4.0, 4.5,5.5,5.0,5.5, 6.0,6.8,6.2,6.5, 7.0,7.5,8.0,7.0],
  [3.5,3.0,2.4,2.4, 3.1,3.7,3.1,2.3, 2.2,2.0,2.2,2.3, 2.1,2.1,2.3,2.4, 2.5,3.3,3.5,4.2, 5.5,6.2,6.0,5.8, 5.2,5.0,5.5,5.0, 4.8,5.2,4.5,5.0, 5.5,6.5,5.8,6.5, 7.0,7.5,6.0,6.5, 7.0,8.5,7.5,7.0, 6.5,7.5,6.5,6.0, 5.5,6.5,6.0,7.0, 7.5,8.5,9.0,10.0, 11.0,13.5,10.5,9.0],
  [2.9,2.4,1.9,2.0, 2.6,3.3,2.8,1.8, 1.3,0.8,1.2,1.6, 1.4,1.2,1.6,1.8, 2.0,2.8,3.0,3.6, 4.5,5.0,4.8,4.5, 4.2,4.5,4.0,3.8, 3.5,4.0,3.2,3.8, 4.2,5.0,4.4,4.8, 5.0,5.5,4.4,4.6, 4.5,5.0,4.4,4.0, 4.2,4.8,3.8,3.5, 3.2,4.0,3.6,3.8, 4.0,4.5,3.8,4.2, 4.5,4.8,5.0,4.6],
  [3.3,2.8,2.3,2.4, 3.0,3.6,3.1,2.3, 2.1,2.0,2.3,2.4, 2.2,2.3,2.5,2.6, 2.7,3.5,3.8,4.6, 5.8,6.5,7.0,6.0, 5.5,5.8,6.2,5.2, 5.0,5.5,4.8,5.2, 5.8,7.0,6.5,7.5, 8.0,9.0,7.5,8.0, 8.0,9.5,8.5,8.0, 7.5,8.8,7.5,7.0, 6.5,7.2,6.8,7.5, 7.0,7.5,7.0,6.5, 6.8,7.0,7.5,6.8],
  [3.2,2.7,2.1,2.2, 2.8,3.5,2.9,2.1, 1.9,1.8,2.0,2.1, 1.9,1.9,2.1,2.2, 2.3,3.0,3.2,3.9, 4.8,5.4,5.2,5.0, 4.5,4.4,4.4,4.0, 3.9,4.2,3.5,3.8, 4.2,5.0,4.6,5.0, 5.2,5.5,4.4,4.8, 4.6,5.2,4.6,4.4, 4.2,5.2,4.2,4.0, 3.8,4.6,4.0,4.2, 4.4,5.2,4.6,5.0, 5.2,5.6,5.0,5.0],
  [3.4,2.9,2.3,2.4, 3.0,3.7,3.1,2.3, 2.1,2.0,2.2,2.3, 2.1,2.1,2.3,2.4, 2.5,3.2,3.4,4.1, 5.2,5.8,5.8,5.5, 5.0,5.0,4.8,4.6, 4.5,4.8,4.0,4.3, 4.8,5.6,5.2,5.6, 5.8,6.2,5.0,5.4, 5.2,6.0,5.2,5.0, 4.8,5.8,4.8,4.5, 4.3,5.0,4.6,4.8, 5.0,5.8,5.2,5.5, 5.6,6.2,5.6,5.6],
  [3.0,2.5,2.0,2.1, 2.7,3.3,2.8,2.0, 1.8,1.7,1.9,2.0, 1.8,1.8,2.0,2.1, 2.2,2.8,3.0,3.6, 4.4,4.8,4.6,4.4, 4.0,3.8,3.8,3.5, 3.4,3.6,3.0,3.2, 3.6,4.2,3.8,4.2, 4.2,4.5,3.6,4.0, 3.8,4.4,3.8,3.6, 3.5,4.2,3.5,3.2, 3.0,3.6,3.2,3.4, 3.5,4.2,3.8,4.0, 4.2,4.6,4.0,4.0],
  [3.6,3.1,2.4,2.5, 3.1,3.8,3.2,2.4, 2.2,2.1,2.4,2.5, 2.3,2.3,2.5,2.6, 2.7,3.4,3.6,4.4, 5.6,6.4,6.4,6.0, 5.6,5.6,5.4,5.2, 5.0,5.4,4.6,5.0, 5.6,6.4,6.0,6.4, 6.8,7.2,5.8,6.2, 6.0,6.8,6.0,5.8, 5.6,6.6,5.6,5.2, 5.0,5.8,5.4,5.6, 5.8,6.6,6.0,6.4, 6.6,7.2,6.4,6.4]
];

// ---- 10m windstoten ----
var gustOper = [9.7,6.5,6.3,4.1, 5.2,7.4,6.8,5.4, 3.7,3.8,4.3,3.6, 3.0,4.1,4.1,3.7, 4.1,6.8,6.9,7.6,
  10.0,12.6,12.7,11.6, 9.5,11.4,12.0,8.9, 9.4,9.7,8.6,8.6, 9.4,10.6,11.4,12.1, 12.1,5.9,6.8,11.1];
var gustCtrl = [10.1,6.4,5.8,4.3, 5.6,7.9,7.7,5.8, 4.1,3.9,4.4,3.7, 3.4,4.0,4.0,4.1, 4.7,5.9,6.4,7.7,
  9.5,11.3,12.2,13.3, 13.6,10.4,7.7,6.9, 10.0,10.2,7.7,2.9, 3.9,4.7,6.0,7.2, 7.6,7.8,7.8,8.8,
  7.4,7.0,8.2,8.3, 8.5,10.0,10.9,8.2, 8.1,7.8,8.0,5.0, 3.9,4.4,5.1,7.2, 6.9,9.1,11.8,11.6];
var gustMean = [10.0,6.4,6.0,4.5, 5.4,7.5,7.4,6.0, 4.5,4.6,4.7,4.4, 3.7,4.4,4.4,4.2, 4.5,6.3,6.3,7.0,
  9.9,10.6,10.9,10.4, 9.6,9.3,9.5,9.2, 8.4,8.8,8.8,7.5, 8.0,10.1,10.4,10.1, 11.1,11.6,11.3,10.1,
  10.0,10.2,10.8,9.6, 8.8,9.9,10.4,8.8, 7.9,9.3,9.7,8.8, 9.3,10.4,10.2,9.9, 11.0,11.8,11.8,10.4];
var gustMedian = [9.9,6.3,5.9,4.4, 5.3,7.3,7.2,5.8, 4.4,4.5,4.6,4.2, 3.6,4.2,4.3,4.1, 4.4,6.1,6.1,6.8,
  9.5,10.2,10.3,10.0, 9.0,9.1,8.5,8.0, 8.2,8.6,8.7,7.4, 7.4,9.8,10.0,9.2, 10.4,10.5,10.3,8.7,
  8.0,9.4,10.4,9.2, 8.7,9.8,9.8,7.8, 7.1,8.5,8.5,8.5, 8.5,10.0,11.2,10.0, 9.8,11.9,11.4,10.6];
var gustMembers = [
  [10.5,6.8,6.4,4.8, 5.8,8.2,8.0,6.4, 4.8,5.0,5.2,4.8, 4.0,4.8,4.8,4.6, 5.0,7.0,7.5,8.5, 12.0,13.5,14.5,13.0, 12.5,13.0,14.0,12.0, 11.0,12.5,13.0,11.5, 12.0,15.0,17.0,16.0, 19.0,22.0,19.5,17.0, 15.0,17.5,18.5,16.0, 14.0,16.5,17.0,14.0, 12.5,14.5,15.5,14.0, 15.0,16.0,17.5,16.5, 17.0,19.0,21.0,18.5],
  [9.5,5.8,5.5,4.0, 4.8,6.6,6.5,5.2, 3.6,3.8,3.8,3.6, 3.0,3.6,3.6,3.4, 3.8,5.2,5.4,6.0, 7.5,8.0,8.2,7.8, 7.0,6.5,6.0,5.5, 5.0,5.5,4.5,4.0, 4.5,5.5,5.0,4.5, 5.0,4.5,4.0,4.5, 3.5,4.5,4.0,3.5, 4.0,5.0,4.2,3.5, 3.0,4.0,3.5,4.0, 3.5,4.5,3.8,3.5, 3.8,4.2,3.6,3.2],
  [10.0,6.5,6.1,4.5, 5.4,7.6,7.4,6.0, 4.5,4.6,4.7,4.4, 3.7,4.4,4.4,4.2, 4.5,6.4,6.5,7.4, 10.5,11.0,11.5,10.5, 9.8,9.5,10.0,9.2, 8.5,9.0,8.8,7.6, 8.2,10.5,11.0,10.5, 11.5,12.0,11.0,10.0, 9.8,10.5,11.0,9.8, 9.0,10.5,10.8,9.0, 8.2,9.5,10.0,9.2, 9.5,10.5,11.0,10.5, 11.0,12.0,12.5,11.0],
  [9.8,6.2,5.8,4.3, 5.2,7.2,7.0,5.6, 4.2,4.4,4.6,4.2, 3.6,4.2,4.3,4.0, 4.8,6.8,7.2,8.2, 11.0,12.5,12.0,10.5, 9.5,10.5,9.0,8.5, 8.5,10.0,10.5,12.0, 14.0,18.0,24.3,20.0, 25.5,27.5,24.0,19.0, 16.0,20.0,21.5,17.0, 14.0,15.5,13.0,11.5, 10.5,12.5,11.5,12.0, 13.0,14.0,15.5,14.0, 14.5,15.5,17.5,15.0],
  [9.6,6.0,5.6,4.2, 5.0,7.0,6.8,5.5, 4.0,4.2,4.3,4.0, 3.4,4.0,4.1,3.9, 4.2,5.6,5.8,6.4, 8.6,9.2,9.5,9.0, 8.5,8.0,7.5,7.0, 6.5,7.0,6.0,6.2, 6.5,7.5,7.0,6.5, 7.2,7.5,6.2,6.5, 6.0,6.8,6.0,5.5, 5.8,6.5,5.5,5.0, 4.5,5.5,5.0,5.5, 5.2,6.0,5.5,5.8, 6.0,6.5,5.8,5.2],
  [10.3,6.6,6.2,4.7, 5.6,7.8,7.7,6.2, 4.8,7.5,11.7,6.0, 4.2,4.5,4.6,4.4, 5.0,8.0,15.2,12.0, 13.0,15.0,16.0,13.5, 11.0,12.0,13.5,12.0, 10.5,11.0,10.0,9.0, 9.5,12.0,13.0,12.0, 13.0,14.5,13.0,12.0, 12.0,14.0,15.0,13.0, 12.5,14.0,13.5,12.0, 10.5,12.0,12.5,13.0, 13.5,14.5,14.0,13.0, 14.0,15.0,16.5,15.0],
  [10.1,6.4,6.0,4.6, 5.5,7.5,7.3,5.9, 4.4,4.5,4.6,4.3, 3.6,4.3,4.4,4.1, 4.6,6.5,6.8,8.0, 12.0,16.0,21.5,15.0, 12.0,11.0,10.0,9.0, 8.0,8.5,7.5,7.0, 7.5,9.0,8.5,8.0, 8.5,9.0,8.0,7.5, 7.0,8.0,7.5,7.0, 7.5,8.5,8.0,7.0, 6.5,7.5,7.0,7.5, 8.0,9.0,8.5,8.0, 8.5,9.0,9.5,8.5],
  [10.2,6.5,6.1,4.6, 5.5,7.6,7.5,6.1, 4.6,4.7,4.8,4.5, 3.8,4.5,4.5,4.3, 4.7,6.6,6.8,7.6, 10.0,10.8,11.0,10.5, 10.0,9.8,10.5,9.5, 9.0,9.5,9.0,8.0, 8.5,10.5,11.0,10.5, 12.0,13.0,12.0,11.0, 11.5,13.0,14.0,12.0, 11.0,12.5,13.0,11.0, 10.0,11.5,12.0,12.5, 14.0,16.0,18.0,20.0, 22.5,26.3,24.0,20.0],
  [9.7,6.1,5.7,4.3, 5.1,7.1,7.0,5.6, 4.1,4.0,4.1,3.9, 3.3,3.9,3.9,3.8, 4.0,5.8,6.0,6.8, 9.0,9.5,9.8,9.5, 9.0,8.5,8.8,8.2, 7.5,8.0,7.2,6.8, 7.5,9.0,9.0,8.5, 9.0,9.5,8.5,8.0, 7.5,8.5,8.5,7.5, 7.0,8.0,7.5,6.5, 6.0,7.0,7.0,7.2, 7.5,8.0,7.5,7.0, 7.5,8.0,8.5,7.5],
  [10.4,6.7,6.3,4.7, 5.7,7.9,7.8,6.3, 4.7,4.8,4.9,4.6, 3.9,4.6,4.6,4.4, 4.8,6.8,7.0,7.8, 11.0,12.0,12.5,11.5, 10.5,11.0,12.0,10.5, 10.0,11.0,10.5,9.5, 10.0,12.5,13.5,12.5, 14.0,15.5,14.0,12.5, 13.0,15.0,16.0,14.0, 12.0,14.0,14.5,12.5, 11.0,13.0,13.5,12.5, 12.5,13.5,14.0,13.0, 13.0,14.0,15.5,14.0],
  [10.0,6.3,5.9,4.4, 5.3,7.4,7.3,5.9, 4.4,4.5,4.6,4.3, 3.6,4.3,4.3,4.1, 4.4,6.2,6.2,6.9, 9.6,10.2,10.5,10.0, 9.2,9.0,9.2,8.8, 8.0,8.5,8.4,7.2, 7.6,9.6,10.0,9.6, 10.5,11.0,10.8,9.6, 9.5,9.8,10.2,9.2, 8.4,9.5,9.8,8.4, 7.5,8.8,9.2,8.4, 8.8,9.8,9.8,9.4, 10.5,11.2,11.2,9.8],
  [10.2,6.6,6.2,4.7, 5.6,7.8,7.6,6.2, 4.7,4.8,4.9,4.6, 3.9,4.6,4.6,4.4, 4.7,6.6,6.6,7.4, 10.4,11.2,11.5,11.0, 10.2,10.0,10.2,9.8, 9.0,9.5,9.5,8.0, 8.6,10.8,11.2,10.8, 12.0,12.5,12.2,11.0, 10.8,11.0,11.6,10.4, 9.6,10.6,11.2,9.5, 8.6,10.0,10.5,9.5, 10.0,11.2,11.0,10.6, 11.8,12.6,12.6,11.2],
  [9.8,6.2,5.8,4.3, 5.2,7.2,7.1,5.7, 4.2,4.3,4.4,4.1, 3.5,4.1,4.1,3.9, 4.2,5.9,5.9,6.6, 9.2,9.8,10.0,9.6, 8.8,8.5,8.6,8.2, 7.5,7.8,7.8,6.6, 7.0,8.8,9.2,8.8, 9.6,10.0,9.8,8.6, 8.5,8.8,9.2,8.2, 7.6,8.6,9.0,7.6, 6.8,8.0,8.4,7.6, 8.0,9.0,8.8,8.6, 9.6,10.2,10.2,9.0],
  [10.3,6.7,6.3,4.8, 5.7,8.0,7.8,6.3, 4.8,4.9,5.0,4.7, 4.0,4.7,4.7,4.5, 4.8,6.8,6.9,7.8, 11.0,12.0,12.4,11.8, 11.0,10.8,11.0,10.6, 9.8,10.4,10.4,8.8, 9.4,11.8,12.4,12.0, 13.4,14.0,13.6,12.2, 12.0,12.4,13.0,11.6, 10.6,11.8,12.4,10.6, 9.6,11.0,11.6,10.6, 11.2,12.4,12.2,11.8, 13.0,14.0,14.0,12.4]
];
var gustLimits = [27.8, 20.8];

// ---- Bedekkingsgraad (per 6-uurs blok) ----
var cloudLow = [1,7,2,3, 27.5,52,99,64, 0,2,12,8.7, 12,4.9,1,2.6, 0,3.6,0,1,
  33.3,91,98.7,100, 100,100,100,97.4, 92,65,75.3,99, 95.8,86.8,52,52.2, 30.8,33,38.3,58,
  37.8,51,58.3,43.7, 27.2,46.8,36,48.3, 66,72.2,48.3,73, 79.9,85.3,53.8,59.6, 68,80,80,74];
var cloudHigh = [8,17,13.5,37, 75,100,100,99, 82,54,60,57, 50.4,41.7,34,54.7, 81.4,94.2,81.8,100,
  100,100,100,100, 100,100,100,100, 100,100,100,100, 100,100,100,100, 100,100,100,100,
  100,100,100,100, 100,100,100,100, 100,100,100,100, 100,100,100,100, 100,100,100,100];
var cloudMedian = [4.5,12,2.2,17, 53.5,96,100,92.5, 23.7,28,26.3,29.7, 24.5,21.4,10.9,10.9, 21.4,38,34.6,70.3,
  98.7,100,100,100, 100,100,100,100, 100,100,100,100, 100,100,98,99, 97.6,86,95.3,93.3,
  94.7,94.7,93,86, 83.7,94.7,86,86, 96.8,99,98.7,98.7, 100,98.5,99.5,100, 100,97,97,97];
var cloudOper = [0,36.5,0.5,17, 48,93.6,100,99, 0,45.3,42,91.7, 45,0,2,0.5, 0.5,95,28,80,
  100,100,100,100, 100,100,1,100, 100,100,100,100, 100,100,97.5,99, 100,100,71,21];
var cloudCtrl = [0,16,2,17, 39,68.6,100,99, 0,27,31.7,72.7, 21,4.5,0.4,0, 0,0,83.7,0,
  100,100,100,100, 100,93,100,100, 100,100,99,100, 100,100,100,100, 100,100,100,82.7,
  17.3,90,98.7,100, 100,65,93.6,86.5, 99,97,99.4,100, 100,98,99,100, 100,80,100,100];

// ---------------------------------------------------------------
var FONT = '"Liberation Sans", Arial, Helvetica, sans-serif';
var RED = '#cc3333', BLUE = '#3333cc', GREEN = 'rgba(62,152,32,0.46)', MAGENTA = '#dd00ee';

var linePanels = [
  {title:'Temperatuur 2m', top:20, height:261, min:-15, max:20, step:5,
   oper:tempOper, ctrl:tempCtrl, mean:tempMean, median:tempMedian, members:tempMembers},
  {title:'Dauwpunt 2m', top:320, height:260, min:-20, max:15, step:5,
   oper:dewOper, ctrl:dewCtrl, mean:dewMean, median:dewMedian, members:dewMembers},
  {title:'Neerslag', top:621, height:259, min:0, max:18, step:2,
   oper:rainOper, ctrl:rainCtrl, mean:rainMean, median:rainMedian, members:rainMembers},
  {title:'10m wind', top:921, height:259, min:0, max:16, step:2,
   oper:windOper, ctrl:windCtrl, mean:windMean, median:windMedian, members:windMembers},
  {title:'10m windstoten', top:1221, height:259, min:0, max:30, step:2,
   oper:gustOper, ctrl:gustCtrl, mean:gustMean, median:gustMedian, members:gustMembers}
];
var cloudPanel = {title:'Bedekkingsgraad', top:1520, height:260};

function xy(vals, shift){
  return vals.map(function(v, i){ return [hours[i] + (shift || 0), v]; });
}
function dayLabel(v){
  if ((v - 12) % 24 !== 0) return '';
  return dayNames[(v - 12) / 24] || '';
}

var option = {
  animation:false,
  backgroundColor:'#fff',
  textStyle:{fontFamily:FONT},
  grid:[], xAxis:[], yAxis:[], legend:[], graphic:[], series:[]
};

function addAxes(g, left, width, xmax, top, height, ymin, ymax, ystep){
  option.grid.push({left:left, top:top, width:width, height:height, show:true,
    borderColor:'#000', borderWidth:1, backgroundColor:'transparent', outerBoundsMode:'none'});
  option.xAxis.push({type:'value', gridIndex:g, min:6, max:xmax, interval:6,
    axisLine:{show:true, onZero:false, lineStyle:{color:'#000', width:1}},
    axisTick:{show:true, length:4, lineStyle:{color:'#000'}},
    axisLabel:{formatter:dayLabel, color:'#000', fontSize:11, fontFamily:FONT, margin:5,
      showMinLabel:true, showMaxLabel:true},
    splitLine:{show:true, lineStyle:{color:'#dadada', width:1}}});
  option.yAxis.push({type:'value', gridIndex:g, min:ymin, max:ymax, interval:ystep,
    axisLine:{show:true, onZero:false, lineStyle:{color:'#000', width:1}},
    axisTick:{show:true, length:4, lineStyle:{color:'#000'}},
    axisLabel:{color:'#000', fontSize:11, fontFamily:FONT, margin:5},
    splitLine:{show:true, lineStyle:{color:'#dadada', width:1}}});
  // dagscheidingen
  option.series.push({type:'line', xAxisIndex:g, yAxisIndex:g, data:[], silent:true, z:1,
    markLine:{silent:true, symbol:['none','none'], label:{show:false}, animation:false,
      lineStyle:{color:'#555', width:1, type:'solid'},
      data:dayLines.map(function(h){ return {xAxis:h}; })}});
}

function addHeader(top, title){
  option.graphic.push(
    {type:'text', x:415, y:top - 6, z:100, style:{text:title, font:'bold 13px ' + FONT,
      fill:'#000', align:'center', verticalAlign:'middle'}},
    {type:'text', x:633, y:top - 17, z:100, style:{text:'Weerplaza.nl - regio midden',
      font:'9.5px ' + FONT, fill:'#aaaaaa', align:'right', verticalAlign:'middle'}},
    {type:'text', x:633, y:top - 7, z:100, style:{text:'Gemaakt: zo 17 jan 09:48',
      font:'9.5px ' + FONT, fill:'#aaaaaa', align:'right', verticalAlign:'middle'}}
  );
}

function addLegend(item, x, top, w, h, lineW){
  var l = {data:[item], left:x, top:top, padding:0, itemWidth:w, itemHeight:h,
    selectedMode:false, textStyle:{fontSize:11, color:'#000', fontFamily:FONT}};
  if (lineW) {
    l.lineStyle = {width:lineW};
    l.itemStyle = {opacity:0, borderWidth:0};
  }
  option.legend.push(l);
}

function lineSeries(g, name, data, color, width, type, z){
  option.series.push({type:'line', name:name, xAxisIndex:g, yAxisIndex:g, data:data, symbol:'none',
    showSymbol:false, silent:true, z:z, clip:true,
    lineStyle:{color:color, width:width, type:type || 'solid', cap:'butt', join:'miter'},
    itemStyle:{color:color}});
}

linePanels.forEach(function(p, g){
  addAxes(g, 30, 603, 360, p.top, p.height, p.min, p.max, p.step);
  p.members.forEach(function(m){
    lineSeries(g, 'Leden', xy(m), GREEN, 1, 'solid', 2);
  });
  lineSeries(g, 'mediaan (middelste waarde)', xy(p.median), MAGENTA, 2.5, [8, 5], 3);
  lineSeries(g, 'gemiddelde', xy(p.mean), '#111', 3, [3, 3], 3);
  lineSeries(g, 'Controle', xy(p.ctrl), BLUE, 3.5, 'solid', 4);
  lineSeries(g, 'Oper.', xy(p.oper), RED, 3.5, 'solid', 5);

  if (g === 0) {
    option.series.push({type:'line', xAxisIndex:g, yAxisIndex:g, data:[], silent:true, z:4,
      markLine:{silent:true, symbol:['none','none'], label:{show:false},
        lineStyle:{color:'#000', width:2.5, type:'solid'}, data:[{yAxis:0}]}});
  }
  if (g === 4) {
    option.series.push({type:'line', xAxisIndex:g, yAxisIndex:g, data:[], silent:true, z:3,
      markLine:{silent:true, symbol:['none','none'], label:{show:false},
        data:[
          {yAxis:gustLimits[0], lineStyle:{color:'#ff55ff', width:2.5, type:[7, 5]}},
          {yAxis:gustLimits[1], lineStyle:{color:'#2f5f5f', width:2, type:[2, 3]}}
        ]}});
  }

  var lt = p.top - 12;
  addLegend('Oper.', 28, lt, 16, 8, 4);
  addLegend('Controle', 100, lt, 16, 8, 4);
  addLegend('Leden', 183, lt, 16, 8, 1);
  addLegend('gemiddelde', 257, lt, 16, 8, 3);
  addLegend('mediaan (middelste waarde)', 355, lt, 16, 8, 2.5);
  addHeader(p.top, p.title);
});

// ---- paneel 6: bedekkingsgraad ----
var gc = 5;
addAxes(gc, 26, 607.6, 362.5, cloudPanel.top, cloudPanel.height, 0, 100, 10);

var boxData = cloudLow.map(function(lo, i){ return [hours[i] + 3, lo, cloudHigh[i]]; });
var medData = cloudMedian.map(function(m, i){ return [hours[i] + 3, m]; });

option.series.push({
  type:'custom', name:'50%', xAxisIndex:gc, yAxisIndex:gc, data:boxData, z:2, silent:true, clip:true,
  itemStyle:{color:'#ffffb0', borderColor:'#b8b8b8'},
  encode:{x:0, y:[1, 2]},
  renderItem:function(params, api){
    var x = api.value(0);
    var top = api.coord([x, api.value(2)]);
    var bot = api.coord([x, api.value(1)]);
    var w = api.size([6, 0])[0] * 0.78;
    return {type:'rect', shape:{x:top[0] - w / 2, y:top[1], width:w, height:Math.max(bot[1] - top[1], 1)},
      style:{fill:'#ffffb0', stroke:'#c0c0c0', lineWidth:1.5}};
  }
});
option.series.push({
  type:'custom', name:'median', xAxisIndex:gc, yAxisIndex:gc, data:medData, z:3, silent:true, clip:true,
  itemStyle:{color:'#000'},
  encode:{x:0, y:1},
  renderItem:function(params, api){
    var x = api.value(0);
    var pt = api.coord([x, api.value(1)]);
    var w = api.size([6, 0])[0] * 0.78;
    return {type:'line', shape:{x1:pt[0] - w / 2, y1:pt[1], x2:pt[0] + w / 2, y2:pt[1]},
      style:{stroke:'#333', lineWidth:1}};
  }
});
lineSeries(gc, 'control', xy(cloudCtrl, 3), BLUE, 2.5, 'solid', 4);
lineSeries(gc, 'oper', xy(cloudOper, 3), RED, 2.5, 'solid', 5);

var ct = cloudPanel.top - 11;
addLegend({name:'oper', icon:'rect', itemStyle:{color:RED}}, 28, ct, 8, 8);
addLegend({name:'control', icon:'rect', itemStyle:{color:BLUE}}, 86, ct, 8, 8);
addLegend({name:'50%', icon:'rect', itemStyle:{color:'#ffffb0', borderColor:'#777', borderWidth:1}}, 156, ct, 8, 8);
addLegend({name:'median', icon:'rect', itemStyle:{color:'#000'}}, 213, ct, 8, 8);
addHeader(cloudPanel.top, cloudPanel.title);

var myChart = echarts.init(document.getElementById('box'), null, {renderer:'canvas'});
myChart.setOption(option);
</script>
</body>
</html>
